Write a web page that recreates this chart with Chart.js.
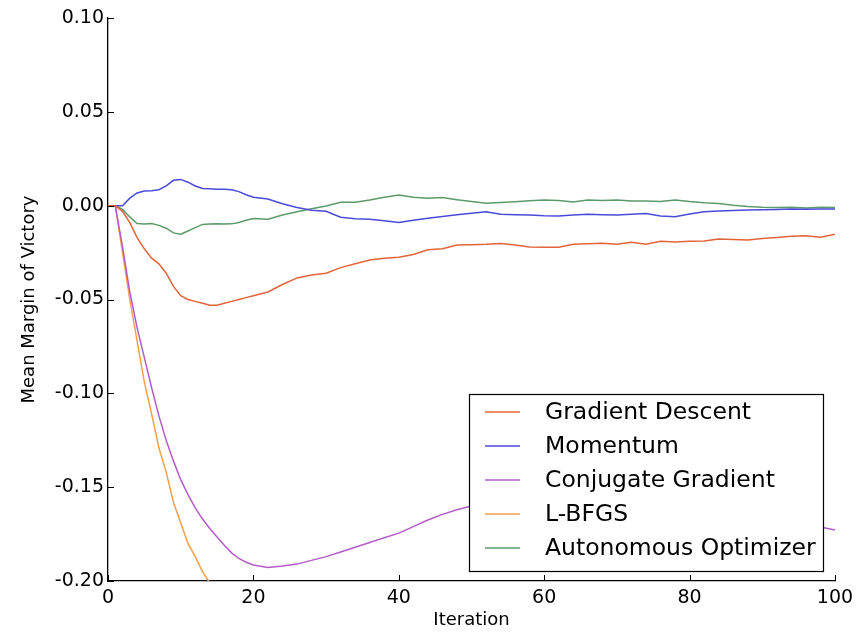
<!DOCTYPE html>
<html>
<head>
<meta charset="utf-8">
<script src="https://cdn.jsdelivr.net/npm/chart.js@4.4.1/dist/chart.umd.min.js"></script>
<style>
html, body { margin: 0; padding: 0; background: #fff; }
</style>
</head>
<body>
<canvas id="marginChart" width="857" height="632"></canvas>
<script>
// iterations sampled from the plot (every step early on, every 2 later)
const iterations = [0,1,2,3,4,5,6,7,8,9,10,11,12,13,14,15,16,17,18,19,20,
  22,24,26,28,30,32,34,36,38,40,42,44,46,48,50,52,54,56,58,60,
  62,64,66,68,70,72,74,76,78,80,82,84,86,88,90,92,94,96,98,100];

const gradientDescent = [0,0,-0.003,-0.009,-0.017,-0.023,-0.028,-0.031,-0.036,-0.043,-0.048,
  -0.050,-0.051,-0.052,-0.053,-0.053,-0.052,-0.051,-0.050,-0.049,-0.048,
  -0.046,-0.042,-0.0385,-0.037,-0.036,-0.033,-0.031,-0.029,-0.028,-0.0275,
  -0.026,-0.0235,-0.023,-0.021,-0.0208,-0.0206,-0.0202,-0.021,-0.022,-0.0222,
  -0.0222,-0.0206,-0.0203,-0.020,-0.0206,-0.0195,-0.0205,-0.019,-0.0193,-0.019,
  -0.0188,-0.0178,-0.018,-0.0183,-0.0175,-0.017,-0.0163,-0.016,-0.0168,-0.0152];

const momentum = [0,0,0,0.004,0.0068,0.0078,0.008,0.0085,0.0105,0.0135,0.014,
  0.0125,0.0105,0.0092,0.009,0.0088,0.0087,0.0085,0.0075,0.0058,0.0045,
  0.0035,0.001,-0.001,-0.0025,-0.003,-0.0062,-0.007,-0.0073,-0.008,-0.009,
  -0.0078,-0.0067,-0.0058,-0.0048,-0.004,-0.0032,-0.0046,-0.0048,-0.005,-0.0054,
  -0.0055,-0.005,-0.0046,-0.0048,-0.005,-0.0046,-0.0042,-0.0055,-0.0059,-0.0045,
  -0.0033,-0.0028,-0.0026,-0.0023,-0.0022,-0.002,-0.0018,-0.0019,-0.0018,-0.0018];

const conjugateGradient = [0,0,-0.022,-0.046,-0.065,-0.081,-0.097,-0.112,-0.125,-0.136,-0.146,
  -0.154,-0.161,-0.167,-0.172,-0.1765,-0.181,-0.185,-0.188,-0.190,-0.1915,
  -0.1928,-0.192,-0.191,-0.189,-0.187,-0.1845,-0.182,-0.1795,-0.177,-0.1745,
  -0.171,-0.1675,-0.1645,-0.162,-0.160,-0.159,-0.158,-0.157,-0.1565,-0.156,
  -0.156,-0.1565,-0.157,-0.158,-0.159,-0.1605,-0.162,-0.163,-0.164,-0.165,
  -0.166,-0.1665,-0.167,-0.1675,-0.168,-0.1685,-0.169,-0.170,-0.1712,-0.1728];

// L-BFGS leaves the visible range after ~14 iterations
const lbfgs = [0,0,-0.025,-0.05,-0.072,-0.094,-0.111,-0.129,-0.142,-0.158,-0.169,
  -0.180,-0.187,-0.195,-0.201,-0.208,-0.214];

const autonomous = [0,0,-0.002,-0.006,-0.0095,-0.0098,-0.0095,-0.0105,-0.012,-0.0145,-0.0152,
  -0.0135,-0.0117,-0.010,-0.0098,-0.0097,-0.0098,-0.0097,-0.009,-0.0078,-0.0068,
  -0.0072,-0.005,-0.0032,-0.0016,-0.0002,0.0018,0.0018,0.003,0.0045,0.0057,
  0.0045,0.004,0.0043,0.0032,0.0022,0.0013,0.0017,0.0021,0.0026,0.003,
  0.0027,0.0019,0.003,0.0027,0.003,0.0025,0.0025,0.0022,0.003,0.0022,
  0.0016,0.0012,0.0002,-0.0004,-0.0008,-0.001,-0.0008,-0.0012,-0.0008,-0.001];

const seriesNames = ["Gradient Descent", "Momentum", "Conjugate Gradient", "L-BFGS", "Autonomous Optimizer"];
const seriesValues = [gradientDescent, momentum, conjugateGradient, lbfgs, autonomous];
const seriesColors = ["#e2643a", "#4a4ad8", "#b35cc8", "#f5a04a", "#5c9a6a"];

const xTicks = [0, 20, 40, 60, 80, 100];
const yTicks = [-0.20, -0.15, -0.10, -0.05, 0.00, 0.05, 0.10];
const yTickLabels = ["-0.20", "-0.15", "-0.10", "-0.05", "0.00", "0.05", "0.10"];

const FONT = "DejaVu Sans";

// inward tick marks like the matplotlib original
const innerTicks = {
  id: "innerTicks",
  afterDatasetsDraw(chart) {
    const c = chart.ctx, a = chart.chartArea;
    const xs = chart.scales.x, ys = chart.scales.y;
    c.save();
    c.strokeStyle = "#000";
    c.lineWidth = 1;
    xTicks.forEach(v => {
      const px = Math.round(xs.getPixelForValue(v)) + 0.5;
      c.beginPath(); c.moveTo(px, a.bottom); c.lineTo(px, a.bottom - 6); c.stroke();
    });
    yTicks.forEach(v => {
      const py = Math.round(ys.getPixelForValue(v)) + 0.5;
      c.beginPath(); c.moveTo(a.left, py); c.lineTo(a.left + 6, py); c.stroke();
    });
    c.restore();
  }
};

// boxed legend sitting inside the lower right of the plot
const boxLegend = {
  id: "boxLegend",
  afterDraw(chart) {
    const c = chart.ctx, a = chart.chartArea;
    const w = 354, h = 177;
    const x0 = a.right - 12 - w, y0 = a.bottom - 10 - h;
    c.save();
    c.fillStyle = "#fff";
    c.fillRect(x0, y0, w, h);
    c.strokeStyle = "#000";
    c.lineWidth = 1.2;
    c.strokeRect(x0 + 0.5, y0 + 0.5, w, h);
    c.font = "23.5px '" + FONT + "'";
    c.textBaseline = "middle";
    c.fillStyle = "#000";
    seriesNames.forEach((name, i) => {
      const cy = y0 + 18 + i * 34;
      c.strokeStyle = seriesColors[i];
      c.lineWidth = 1.5;
      c.beginPath(); c.moveTo(x0 + 16, cy); c.lineTo(x0 + 51, cy); c.stroke();
      c.fillText(name, x0 + 76, cy + 1);
    });
    c.restore();
  }
};

new Chart(document.getElementById("marginChart").getContext("2d"), {
  type: "line",
  data: {
    datasets: seriesValues.map((vals, i) => ({
      label: seriesNames[i],
      data: vals.map((v, j) => ({ x: iterations[j], y: v })),
      borderColor: seriesColors[i],
      borderWidth: 1.5,
      pointRadius: 0,
      tension: 0,
      fill: false
    }))
  },
  options: {
    responsive: false,
    animation: false,
    layout: { padding: { left: 10, right: 22, top: 18, bottom: 0 } },
    plugins: {
      legend: { display: false },
      tooltip: { enabled: false }
    },
    scales: {
      x: {
        type: "linear",
        min: 0,
        max: 100,
        afterBuildTicks: s => { s.ticks = xTicks.map(v => ({ value: v })); },
        afterFit: s => { s.height = 51; s.paddingRight = 0; s.paddingLeft = 0; },
        grid: { display: false, drawTicks: false },
        border: { display: true, color: "#000", width: 1.3 },
        ticks: { color: "#000", padding: 6, maxRotation: 0, font: { family: FONT, size: 19 } },
        title: { display: true, text: "Iteration", color: "#000", padding: { top: 2, bottom: 1 }, font: { family: FONT, size: 18 } }
      },
      y: {
        type: "linear",
        min: -0.2,
        max: 0.1,
        afterBuildTicks: s => { s.ticks = yTicks.map(v => ({ value: v })); },
        afterFit: s => { s.width = 98; },
        grid: { display: false, drawTicks: false },
        border: { display: true, color: "#000", width: 1.3 },
        ticks: {
          color: "#000",
          padding: 4,
          font: { family: FONT, size: 19 },
          callback: (v, i) => yTickLabels[i]
        },
        title: { display: true, text: "Mean Margin of Victory", color: "#000", padding: { top: 9, bottom: 0 }, font: { family: FONT, size: 18 } }
      }
    }
  },
  plugins: [innerTicks, boxLegend]
});
</script>
</body>
</html>
